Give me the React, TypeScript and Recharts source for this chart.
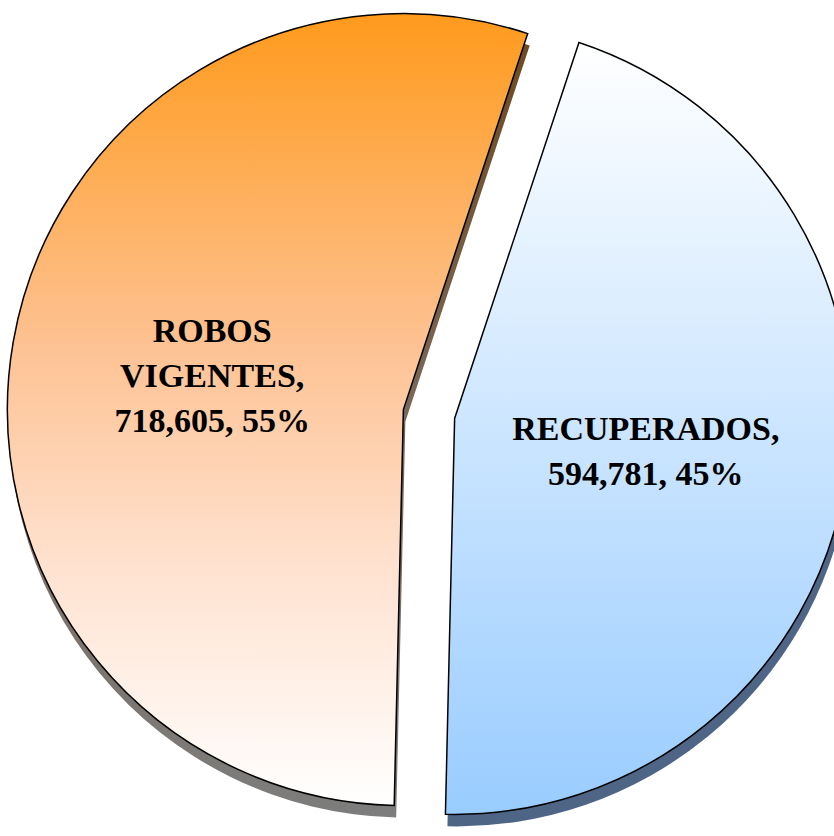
import React from "react";
import { PieChart, Pie, Cell } from "recharts";

const categories = ["ROBOS VIGENTES", "RECUPERADOS"];
const values = [718605, 594781];
const percents = ["55%", "45%"];
const labelLines = [
  ["ROBOS", "VIGENTES,", "718,605, 55%"],
  ["RECUPERADOS,", "594,781, 45%"],
];

const data = categories.map((name, i) => ({ name, value: values[i], pct: percents[i] }));

const W = 834;
const H = 836;
const CX = 429;
const CY = 414;
const R = 396;
const EXPLODE = 26;
const START = 71.7;

// angle of each slice's middle, for the exploded offset
const total = values.reduce((a, b) => a + b, 0);
const mids: number[] = [];
{
  let a = START;
  values.forEach((v) => {
    const sweep = (v / total) * 360;
    mids.push(a + sweep / 2);
    a += sweep;
  });
}
const RAD = Math.PI / 180;
const centers = mids.map((m) => ({
  x: CX + EXPLODE * Math.cos(m * RAD),
  y: CY - EXPLODE * Math.sin(m * RAD),
}));

const mainFills = ["url(#gOrange)", "url(#gBlue)"];
const shadowFills = ["url(#gOrangeShadow)", "#4f6585"];

function makeLabel(visible: number) {
  return (props: any) => {
    if (props.index !== visible) return null;
    const { cx, cy, midAngle, outerRadius } = props;
    const r = outerRadius * 0.49;
    const x = cx + r * Math.cos(-midAngle * RAD);
    const y = cy + r * Math.sin(-midAngle * RAD);
    const lines = labelLines[visible];
    const lh = 45;
    const first = y - ((lines.length - 1) * lh) / 2 + 11;
    return (
      <text
        x={x}
        y={first}
        textAnchor="middle"
        fontFamily="'Liberation Serif', 'Times New Roman', serif"
        fontWeight="bold"
        fontSize={34}
        fill="#000"
      >
        {lines.map((l, i) => (
          <tspan key={i} x={x} dy={i === 0 ? 0 : lh}>
            {l}
          </tspan>
        ))}
      </text>
    );
  };
}

export default function App() {
  return (
    <div style={{ position: "absolute", left: 0, top: 0, width: W, height: H, overflow: "hidden", background: "#fff" }}>
      <PieChart width={W} height={H} margin={{ top: 0, right: 0, bottom: 0, left: 0 }}>
        <defs>
          <linearGradient id="gOrange" x1="0" y1="0" x2="0" y2="1">
            <stop offset="0%" stopColor="#FF9A1C" />
            <stop offset="42%" stopColor="#FDC293" />
            <stop offset="70%" stopColor="#FFE2D0" />
            <stop offset="100%" stopColor="#FFFFFF" />
          </linearGradient>
          <linearGradient id="gBlue" x1="0" y1="0" x2="0" y2="1">
            <stop offset="0%" stopColor="#FFFFFF" />
            <stop offset="100%" stopColor="#99CCFF" />
          </linearGradient>
          <linearGradient id="gOrangeShadow" x1="0" y1="0" x2="0" y2="1">
            <stop offset="0%" stopColor="#6e4a1e" />
            <stop offset="45%" stopColor="#7a6655" />
            <stop offset="100%" stopColor="#7d7d7d" />
          </linearGradient>
        </defs>
        {[0, 1].map((k) => (
          <Pie
            key={`s${k}`}
            data={data}
            dataKey="value"
            cx={centers[k].x + 2}
            cy={centers[k].y + 12}
            outerRadius={R}
            startAngle={START}
            endAngle={START + 360}
            stroke="none"
            isAnimationActive={false}
            label={false}
            labelLine={false}
          >
            {data.map((d, i) => (
              <Cell key={d.name} fill={i === k ? shadowFills[i] : "none"} stroke="none" />
            ))}
          </Pie>
        ))}
        {[0, 1].map((k) => (
          <Pie
            key={`m${k}`}
            data={data}
            dataKey="value"
            cx={centers[k].x}
            cy={centers[k].y}
            outerRadius={R}
            startAngle={START}
            endAngle={START + 360}
            isAnimationActive={false}
            label={makeLabel(k)}
            labelLine={false}
          >
            {data.map((d, i) => (
              <Cell
                key={d.name}
                fill={i === k ? mainFills[i] : "none"}
                stroke={i === k ? "#000" : "none"}
                strokeWidth={1.5}
              />
            ))}
          </Pie>
        ))}
      </PieChart>
    </div>
  );
}
